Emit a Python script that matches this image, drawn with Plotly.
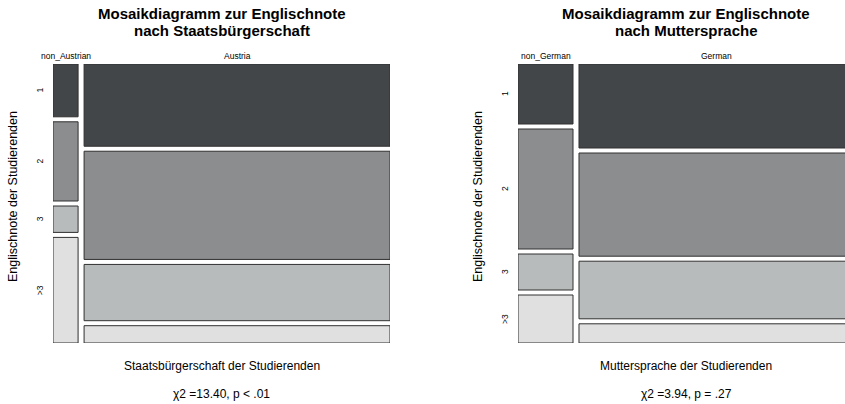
import plotly.graph_objects as go

# ---- data ----
grades = ["1", "2", "3", ">3"]
cit_groups = ["non_Austrian", "Austria"]
cit_non_austrian = [2, 3, 1, 4]
cit_austria = [38, 50, 26, 8]
lang_groups = ["non_German", "German"]
lang_non_german = [5, 10, 3, 4]
lang_german = [35, 43, 24, 8]
title_lines = [["Mosaikdiagramm zur Englischnote", "nach Staatsbürgerschaft"],
               ["Mosaikdiagramm zur Englischnote", "nach Muttersprache"]]
xtitles = ["Staatsbürgerschaft der Studierenden", "Muttersprache der Studierenden"]
stats = ["χ2 =13.40, p < .01", "χ2 =3.94, p = .27"]
ytitle = "Englischnote der Studierenden"

fills = ["#434649", "#8c8d8f", "#b8bbbc", "#e0e0e0"]
edge = "#303030"

W, H = 845, 404
GAPX = 6 / 337
GAPY = 5 / 279
FONT = "Liberation Sans, Arial"

fig = go.Figure()


def mosaic(cols, xref, yref):
    shapes = []
    total = sum(sum(c) for c in cols)
    netw = 1 - GAPX * (len(cols) - 1)
    neth = 1 - GAPY * (len(grades) - 1)
    x0 = 0.0
    centers = []
    first_rows = []
    for ci, col in enumerate(cols):
        n = sum(col)
        w = netw * n / total
        y_top = 1.0
        rows = []
        for ri, v in enumerate(col):
            h = neth * v / n
            shapes.append(dict(type="rect", xref=xref, yref=yref,
                               x0=x0, x1=x0 + w, y0=y_top - h, y1=y_top,
                               fillcolor=fills[ri], line=dict(color=edge, width=1),
                               layer="above"))
            rows.append((y_top - h + y_top) / 2)
            y_top -= h + GAPY
        if ci == 0:
            first_rows = rows
        centers.append(x0 + w / 2)
        x0 += w + GAPX
    return shapes, centers, first_rows


panels = [
    dict(cols=[cit_non_austrian, cit_austria], names=cit_groups,
         xpx=(53, 390), clip=390, ax="x", ay="y"),
    dict(cols=[lang_non_german, lang_german], names=lang_groups,
         xpx=(518, 854), clip=845, ax="x2", ay="y2"),
]

ydom = [1 - 343 / H, 1 - 64 / H]
shapes_all = []
annots = []
for i, p in enumerate(panels):
    x_lo, x_hi = p["xpx"]
    span = x_hi - x_lo
    clip = p["clip"]
    dom = [x_lo / W, clip / W]
    rng = [0, (clip - x_lo) / span]
    axname = "xaxis" if i == 0 else "xaxis2"
    ayname = "yaxis" if i == 0 else "yaxis2"
    fig.update_layout(**{
        axname: dict(domain=dom, range=rng, visible=False, fixedrange=True),
        ayname: dict(domain=ydom, range=[0, 1], visible=False, fixedrange=True),
    })
    shapes, centers, rows = mosaic(p["cols"], p["ax"], p["ay"])
    shapes_all += shapes
    cx_px = (x_lo + x_hi) / 2
    # title (two lines)
    for line, ypx in zip(title_lines[i], (13.5, 30.5)):
        annots.append(dict(text="<b>" + line + "</b>", x=cx_px / W, y=1 - ypx / H,
                           xref="paper", yref="paper", showarrow=False,
                           xanchor="center", yanchor="middle",
                           font=dict(family=FONT, size=15, color="#000")))
    # column labels
    for name, c in zip(p["names"], centers):
        annots.append(dict(text=name, x=c, xref=p["ax"], y=1 - 56 / H, yref="paper",
                           showarrow=False, xanchor="center", yanchor="middle",
                           font=dict(family=FONT, size=8.5, color="#000")))
    # row labels
    for g, r in zip(grades, rows):
        annots.append(dict(text=g, x=(x_lo - 13) / W, xref="paper", y=r, yref=p["ay"],
                           showarrow=False, textangle=-90, xanchor="center", yanchor="middle",
                           font=dict(family=FONT, size=8.5, color="#000")))
    # y title
    annots.append(dict(text=ytitle, x=(x_lo - 40) / W, xref="paper", y=1 - 197 / H, yref="paper",
                       showarrow=False, textangle=-90, xanchor="center", yanchor="middle",
                       font=dict(family=FONT, size=12.5, color="#000")))
    # x title and stats
    annots.append(dict(text=xtitles[i], x=cx_px / W, xref="paper", y=1 - 366 / H, yref="paper",
                       showarrow=False, xanchor="center", yanchor="middle",
                       font=dict(family=FONT, size=12, color="#000")))
    annots.append(dict(text=stats[i], x=cx_px / W, xref="paper", y=1 - 394 / H, yref="paper",
                       showarrow=False, xanchor="center", yanchor="middle",
                       font=dict(family=FONT, size=12, color="#000")))

fig.update_layout(width=W, height=H, margin=dict(l=0, r=0, t=0, b=0),
                  paper_bgcolor="white", plot_bgcolor="white",
                  shapes=shapes_all, annotations=annots, showlegend=False)

fig.write_html("out.html", config={"displayModeBar": False},
               post_script="document.body.style.margin='0';document.body.style.overflow='hidden';")
